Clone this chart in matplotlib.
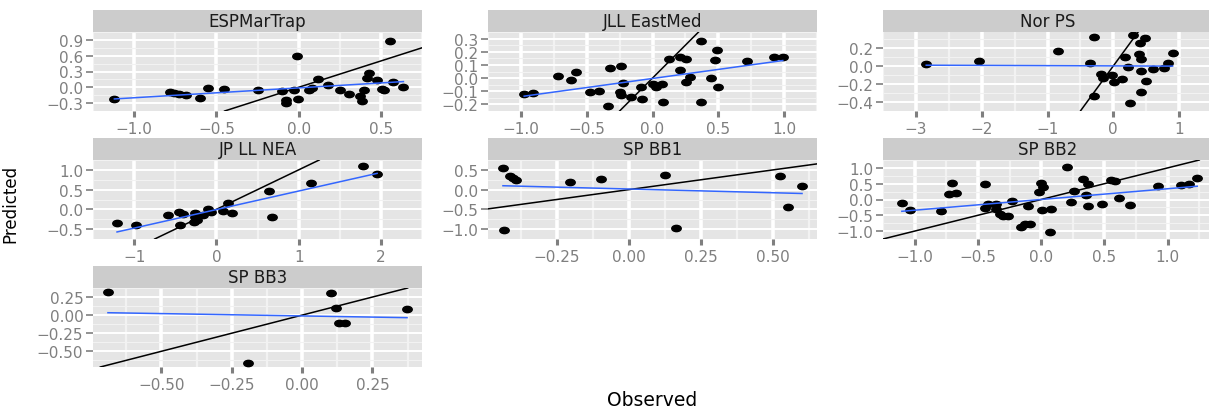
import numpy as np
import matplotlib
matplotlib.use("Agg")
import matplotlib.pyplot as plt
from matplotlib.path import Path
from matplotlib.transforms import Affine2D

# observed / predicted values for each fishery index
esp_obs = [-1.12, -0.78, -0.755, -0.725, -0.686, -0.598, -0.549, -0.455, -0.249, -0.102,
           -0.075, -0.075, -0.03, -0.01, -0.004, 0.065, 0.084, 0.12, 0.18, 0.25,
           0.304, 0.373, 0.386, 0.398, 0.425, 0.418, 0.476, 0.504, 0.516, 0.555,
           0.573, 0.637]
esp_pred = [-0.23, -0.09, -0.11, -0.13, -0.15, -0.20, -0.01, -0.03, -0.06, -0.07,
            -0.24, -0.29, -0.06, 0.60, -0.23, -0.06, -0.01, 0.165, 0.05, -0.05,
            -0.12, -0.17, -0.26, -0.05, 0.27, 0.175, 0.13, -0.03, -0.06, 0.87,
            0.095, 0.015]

jll_obs = [-0.975, -0.911, -0.718, -0.62, -0.58, -0.473, -0.405, -0.34, -0.32, -0.237,
           -0.248, -0.237, -0.226, -0.166, -0.09, -0.079, 0.004, 0.026, 0.07, 0.077,
           0.129, 0.208, 0.212, 0.252, 0.252, 0.283, 0.366, 0.366, 0.442, 0.475,
           0.493, 0.497, 0.716, 0.924, 0.99]
jll_pred = [-0.123, -0.111, 0.018, -0.016, 0.048, -0.109, -0.10, -0.211, 0.08, 0.089,
            -0.107, -0.125, -0.041, -0.141, -0.068, -0.159, -0.043, -0.07, -0.045, -0.182,
            0.148, 0.064, 0.159, 0.148, -0.027, 0.011, 0.28, -0.18, 0.002, 0.139,
            0.211, -0.068, 0.13, 0.159, 0.157]

nor_obs = [-2.843, -2.034, -0.839, -0.294, -0.348, -0.294, -0.189, -0.151, -0.021, 0.008,
           0.134, 0.176, 0.226, 0.252, 0.293, 0.407, 0.398, 0.415, 0.428, 0.415,
           0.482, 0.503, 0.608, 0.776, 0.826, 0.901]
nor_pred = [0.017, 0.055, 0.166, 0.319, 0.038, -0.336, -0.087, -0.139, -0.104, -0.173,
            -0.146, 0.097, -0.007, -0.406, 0.34, 0.253, 0.132, 0.08, -0.059, -0.284,
            0.315, -0.163, -0.035, -0.024, 0.035, 0.139]

jp_obs = [-1.208, -0.972, -0.594, -0.452, -0.406, -0.442, -0.265, -0.258, -0.272, -0.24,
          -0.159, -0.099, -0.06, 0.081, 0.141, 0.194, 0.636, 0.671, 1.155, 1.777, 1.954]
jp_pred = [-0.346, -0.385, -0.138, -0.062, -0.115, -0.385, -0.092, -0.192, -0.308, -0.27,
           -0.154, 0.0, -0.077, -0.038, 0.169, -0.1, 0.462, -0.192, 0.669, 1.092, 0.908]

bb1_obs = [-0.436, -0.41, -0.402, -0.392, -0.431, -0.203, -0.097, 0.125, 0.163, 0.524,
           0.553, 0.6]
bb1_pred = [0.551, 0.355, 0.304, 0.246, -1.022, 0.196, 0.275, 0.362, -0.971, 0.333,
            -0.442, 0.08]

bb2_obs = [-1.101, -1.035, -0.793, -0.73, -0.704, -0.676, -0.44, -0.44, -0.417, -0.357,
           -0.357, -0.326, -0.305, -0.261, -0.232, -0.156, -0.128, -0.089, -0.102, -0.013,
           0.0, 0.016, 0.008, 0.081, 0.073, 0.203, 0.237, 0.263, 0.329, 0.368,
           0.355, 0.373, 0.485, 0.55, 0.582, 0.616, 0.699, 0.921, 1.103, 1.168, 1.234]
bb2_pred = [-0.113, -0.347, -0.366, 0.178, 0.526, 0.216, 0.479, -0.272, -0.131, -0.131,
            -0.30, -0.46, -0.507, -0.535, -0.056, -0.883, -0.789, -0.76, -0.207, 0.244,
            0.507, 0.404, -0.319, -0.30, -1.023, 1.014, -0.066, 0.272, 0.648, 0.479,
            0.15, -0.207, -0.131, 0.62, 0.601, 0.038, -0.16, 0.432, 0.451, 0.479, 0.695]

bb3_obs = [-0.69, 0.101, 0.119, 0.131, 0.152, 0.373, -0.194]
bb3_pred = [0.316, 0.306, 0.101, -0.105, -0.105, 0.078, -0.668]

titles = ["ESPMarTrap", "JLL EastMed", "Nor PS", "JP LL NEA", "SP BB1", "SP BB2", "SP BB3"]
observed = [esp_obs, jll_obs, nor_obs, jp_obs, bb1_obs, bb2_obs, bb3_obs]
predicted = [esp_pred, jll_pred, nor_pred, jp_pred, bb1_pred, bb2_pred, bb3_pred]

x_breaks = [[-1.0, -0.5, 0.0, 0.5],
            [-1.0, -0.5, 0.0, 0.5, 1.0],
            [-3, -2, -1, 0, 1],
            [-1, 0, 1, 2],
            [-0.25, 0.0, 0.25, 0.5],
            [-1.0, -0.5, 0.0, 0.5, 1.0],
            [-0.5, -0.25, 0.0, 0.25]]
y_breaks = [[-0.3, 0.0, 0.3, 0.6, 0.9],
            [-0.2, -0.1, 0.0, 0.1, 0.2, 0.3],
            [-0.4, -0.2, 0.0, 0.2],
            [-0.5, 0.0, 0.5, 1.0],
            [-1.0, -0.5, 0.0, 0.5],
            [-1.0, -0.5, 0.0, 0.5, 1.0],
            [-0.5, -0.25, 0.0, 0.25]]
x_fmt = ["{:.1f}", "{:.1f}", "{:.0f}", "{:.0f}", "{:.2f}", "{:.1f}", "{:.2f}"]
y_fmt = ["{:.1f}", "{:.1f}", "{:.1f}", "{:.1f}", "{:.1f}", "{:.1f}", "{:.2f}"]

W, H = 1209, 410
fig = plt.figure(figsize=(W / 100, H / 100), dpi=100)
fig.patch.set_facecolor("white")

# ggplot-like wide dots
dot = Path.unit_circle().transformed(Affine2D().scale(1.5, 1.0))

col_left = [93, 488, 883]
row_top = [11, 139, 267]
panel_w, strip_h, panel_h = 329, 22, 79


def px_axes(left, top, w, h):
    return fig.add_axes([left / W, 1 - (top + h) / H, w / W, h / H])


def labels(vals, fmt):
    return [fmt.format(v).replace("-", "\u2212") for v in vals]


for i, title in enumerate(titles):
    r, c = divmod(i, 3)
    left, top = col_left[c], row_top[r]

    # facet strip
    sax = px_axes(left, top, panel_w, strip_h)
    sax.set_facecolor("#CCCCCC")
    sax.set_xticks([])
    sax.set_yticks([])
    for s in sax.spines.values():
        s.set_visible(False)
    sax.text(0.5, 0.5, title, ha="center", va="center", fontsize=12,
             color="#1A1A1A", transform=sax.transAxes)

    ax = px_axes(left, top + strip_h, panel_w, panel_h)
    ax.set_facecolor("#E5E5E5")
    for s in ax.spines.values():
        s.set_visible(False)

    x = np.array(observed[i])
    y = np.array(predicted[i])
    ax.plot(x, y, linestyle="none", marker=dot, markersize=6.8,
            color="black", zorder=3)
    ax.margins(0.05)
    ax.autoscale_view()

    # 1:1 line and linear fit
    ax.axline((0, 0), slope=1, color="black", lw=1.1, zorder=4)
    b, a = np.polyfit(x, y, 1)
    xs = np.array([x.min(), x.max()])
    ax.plot(xs, a + b * xs, color="#3366FF", lw=1.1, zorder=4, scalex=False, scaley=False)

    xb, yb = x_breaks[i], y_breaks[i]
    ax.set_xticks(xb)
    ax.set_xticklabels(labels(xb, x_fmt[i]))
    ax.set_yticks(yb)
    ax.set_yticklabels(labels(yb, y_fmt[i]))
    dx = xb[1] - xb[0]
    dy = yb[1] - yb[0]
    ax.set_xticks(np.arange(xb[0] - dx / 2, xb[-1] + dx, dx), minor=True)
    ax.set_yticks(np.arange(yb[0] - dy / 2, yb[-1] + dy, dy), minor=True)

    ax.grid(True, which="major", axis="x", color="white", lw=2.6)
    ax.grid(True, which="major", axis="y", color="white", lw=1.4)
    ax.grid(True, which="minor", axis="x", color="#F2F2F2", lw=1.6)
    ax.grid(True, which="minor", axis="y", color="#F2F2F2", lw=0.8)
    ax.set_axisbelow(True)

    ax.tick_params(axis="x", which="major", length=4, width=2.2, color="#7F7F7F",
                   labelcolor="#7F7F7F", labelsize=11, pad=3)
    ax.tick_params(axis="y", which="major", length=5, width=1.2, color="#7F7F7F",
                   labelcolor="#7F7F7F", labelsize=11, pad=2)
    ax.tick_params(which="minor", length=0)

fig.text(652 / W, 1 - 401 / H, "Observed", ha="center", va="center", fontsize=13.5)
fig.text(1 / W, 1 - 204 / H, "Predicted", ha="left", va="center",
         rotation=90, fontsize=12)

fig.savefig("out.png", dpi=100)
